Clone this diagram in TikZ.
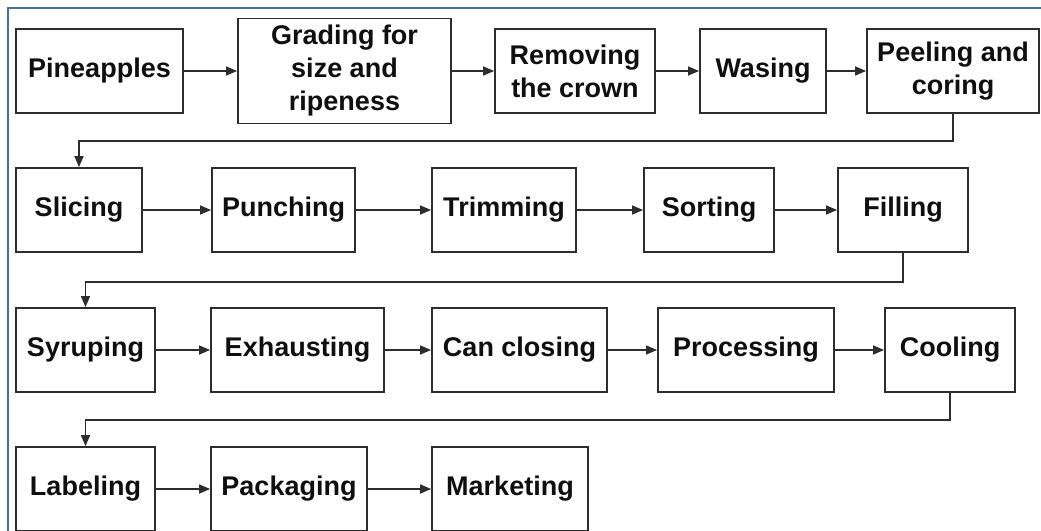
\documentclass[tikz,border=0pt]{standalone}
\usepackage{fontspec}
\setmainfont{Liberation Sans}
\usepackage{xcolor}
\usepackage{tikz}
\usetikzlibrary{arrows.meta,positioning}
\definecolor{linegrey}{RGB}{45,45,45}
\definecolor{textblack}{RGB}{15,15,15}
\definecolor{frameblue}{RGB}{70,110,170}

\begin{document}
\begin{tikzpicture}[x=1pt,y=-1pt,
    stage/.style={draw=linegrey,line width=1.8pt,rectangle,minimum height=84pt,
                  inner sep=2pt,align=center,text=textblack,
                  font=\fontsize{27}{33}\selectfont\bfseries},
    flow/.style={draw=linegrey,line width=1.5pt,-{Triangle[length=11pt,width=9pt]}}]
  \useasboundingbox (0,0) rectangle (1041,530);
  \clip (0,0) rectangle (1041,530);
  \fill[white] (0,0) rectangle (1041,530);
  \draw[frameblue,line width=2pt] (8,531)--(8,8)--(1042,8);
  % row 1
  \node[stage,minimum width=167pt] (pine) at (99.5,71) {Pineapples};
  \node[stage,minimum width=213pt,minimum height=105pt] (grade) at (344.5,71)
    {Grading for\\size and\\ripeness};
  \node[stage,minimum width=160pt] (crown) at (575,71) {Removing\\the crown};
  \node[stage,minimum width=126pt] (wash) at (763,71) {Wasing};
  \node[stage,minimum width=172pt] (peel) at (953,71) {Peeling and\\coring};
  % row 2
  \node[stage,minimum width=126pt] (slice) at (79,210) {Slicing};
  \node[stage,minimum width=143pt] (punch) at (283.5,210) {Punching};
  \node[stage,minimum width=144pt] (trim) at (504,210) {Trimming};
  \node[stage,minimum width=130pt] (sort) at (709,210) {Sorting};
  \node[stage,minimum width=130pt] (fill) at (903,210) {Filling};
  % row 3
  \node[stage,minimum width=139pt] (syrup) at (85.5,350) {Syruping};
  \node[stage,minimum width=173pt] (exhaust) at (297.5,350) {Exhausting};
  \node[stage,minimum width=175pt] (close) at (519.5,350) {Can closing};
  \node[stage,minimum width=176pt] (proc) at (746,350) {Processing};
  \node[stage,minimum width=130pt] (cool) at (950,350) {Cooling};
  % row 4
  \node[stage,minimum width=139pt] (label) at (85.5,489) {Labeling};
  \node[stage,minimum width=156pt] (pack) at (289,489) {Packaging};
  \node[stage,minimum width=156pt] (market) at (510,489) {Marketing};
  \foreach \a/\b in {pine/grade,grade/crown,crown/wash,wash/peel,
                     slice/punch,punch/trim,trim/sort,sort/fill,
                     syrup/exhaust,exhaust/close,close/proc,proc/cool,
                     label/pack,pack/market}{
    \draw[flow] (\a) -- (\b);}
  % row changes
  \draw[flow] (peel.south) -- ++(0,27) -| (slice.north);
  \draw[flow] (fill.south) -- ++(0,29) -| (syrup.north);
  \draw[flow] (cool.south) -- ++(0,27) -| (label.north);
\end{tikzpicture}
\end{document}
